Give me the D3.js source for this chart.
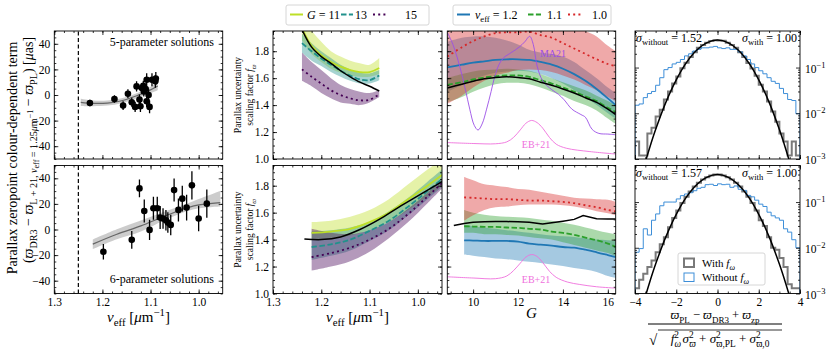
<!DOCTYPE html>
<html>
<head>
<meta charset="utf-8">
<script src="https://cdn.jsdelivr.net/npm/d3@7"></script>
<style>
    body { margin: 0; background: #fff; }
    text { font-family: "Liberation Serif", "DejaVu Serif", serif; }
</style>
</head>
<body>
<div id="chart"></div>
<script>
// ---- colour-dependent zeropoint term ----
const nu5 = [1.226, 1.175, 1.157, 1.147, 1.139, 1.132, 1.129, 1.123, 1.121, 1.118, 1.115, 1.114, 1.110, 1.108, 1.108, 1.104, 1.102, 1.097, 1.090, 1.089];
const zp5 = [-6.2, -3.1, -8.3, 1.0, -5.7, -9.3, 6.7, -3.6, -8.8, 5.4, 7.2, 2.8, 4.6, 11.9, -4.9, 0.0, -9.3, 11.9, 10.7, 12.9];
const zp5Err = [2.5, 3, 3.5, 3.5, 3.5, 4, 4, 4, 4.5, 4, 4, 4, 4, 5, 4.5, 4.5, 5, 5, 5, 5];
const fitNu5 = [1.245, 1.22, 1.19, 1.16, 1.13, 1.10, 1.085];
const fit5 = [-5.7, -6.5, -6.3, -4.5, -0.8, 4.0, 7.0];
const fit5Lo = [-8.5, -8.7, -8.3, -6.5, -2.8, 1.5, 3.8];
const fit5Hi = [-2.9, -4.3, -4.3, -2.5, 1.2, 6.5, 10.2];

const nu6 = [1.198, 1.139, 1.123, 1.113, 1.102, 1.094, 1.086, 1.080, 1.074, 1.068, 1.064, 1.058, 1.051, 1.042, 1.034, 1.025, 1.014, 1.000, 0.983];
const zp6 = [-17.4, -8.1, 32.1, 14.5, -0.3, 16.6, 16.6, 9.3, 8.6, 7.2, 5.4, 3.6, 30.8, 15.3, 24.1, 17.1, 34.5, 8.6, 20.2];
const zp6Err = [6, 7, 7, 9, 8, 9, 9, 9, 8, 8, 8, 8, 9, 9, 10, 10, 11, 10, 11];
const fitNu6 = [1.22, 1.17, 1.12, 1.07, 1.01, 0.955];
const fit6 = [-11.4, -3.7, 2.8, 10.5, 18.4, 21.0];
const fit6Lo = [-15.3, -7.6, -1.5, 7.5, 15.8, 18.0];
const fit6Hi = [-7.8, 0.2, 7.0, 14.0, 22.3, 30.0];

// ---- scaling factor vs nu_eff ----
const gLevels = ["11", "13", "15"];
const nuFTop = [1.24, 1.22, 1.20, 1.18, 1.16, 1.14, 1.12, 1.10, 1.08];
const fAllTop = [1.96, 1.83, 1.76, 1.71, 1.655, 1.61, 1.57, 1.54, 1.505];
const fG11Top = [1.97, 1.84, 1.77, 1.72, 1.685, 1.66, 1.645, 1.645, 1.675];
const fG11TopLo = [1.88, 1.78, 1.72, 1.67, 1.64, 1.62, 1.61, 1.61, 1.63];
const fG11TopHi = [2.05, 1.95, 1.87, 1.80, 1.76, 1.73, 1.71, 1.70, 1.75];
const fG13Top = [1.86, 1.80, 1.745, 1.70, 1.655, 1.62, 1.59, 1.585, 1.62];
const fG13TopLo = [1.79, 1.73, 1.69, 1.645, 1.61, 1.58, 1.56, 1.56, 1.585];
const fG13TopHi = [1.93, 1.86, 1.80, 1.75, 1.70, 1.665, 1.64, 1.635, 1.66];
const fG15Top = [1.665, 1.61, 1.56, 1.51, 1.475, 1.45, 1.435, 1.44, 1.48];
const fG15TopLo = [1.58, 1.54, 1.49, 1.45, 1.42, 1.41, 1.40, 1.42, 1.46];
const fG15TopHi = [1.79, 1.72, 1.66, 1.60, 1.55, 1.52, 1.50, 1.49, 1.51];

const nuFBot = [1.22, 1.18, 1.14, 1.10, 1.06, 1.02, 0.98, 0.95];
const nuAllBot = [1.235, 1.20, 1.16, 1.12, 1.08, 1.04, 1.00, 0.95];
const fAllBot = [1.405, 1.40, 1.42, 1.475, 1.55, 1.64, 1.725, 1.83];
const fG11Bot = [1.45, 1.46, 1.48, 1.53, 1.60, 1.70, 1.80, 1.88];
const fG11BotLo = [1.40, 1.41, 1.43, 1.47, 1.53, 1.62, 1.72, 1.80];
const fG11BotHi = [1.53, 1.54, 1.57, 1.62, 1.70, 1.81, 1.92, 2.00];
const fG13Bot = [1.345, 1.365, 1.40, 1.465, 1.54, 1.645, 1.76, 1.85];
const fG13BotLo = [1.25, 1.28, 1.32, 1.39, 1.47, 1.58, 1.70, 1.79];
const fG13BotHi = [1.46, 1.47, 1.49, 1.53, 1.61, 1.71, 1.83, 1.92];
const fG15Bot = [1.27, 1.30, 1.34, 1.40, 1.48, 1.59, 1.72, 1.82];
const fG15BotLo = [1.17, 1.20, 1.24, 1.31, 1.41, 1.53, 1.67, 1.78];
const fG15BotHi = [1.48, 1.45, 1.44, 1.47, 1.53, 1.63, 1.75, 1.85];

// ---- scaling factor vs G ----
const nuLevels = ["1.2", "1.1", "1.0"];
const gTop = [8.85, 9.5, 10, 10.5, 11, 11.5, 12, 12.5, 13, 13.5, 14, 14.5, 15, 15.5, 16, 16.35];
const fAllG = [1.527, 1.555, 1.577, 1.595, 1.605, 1.61, 1.605, 1.595, 1.57, 1.547, 1.52, 1.49, 1.455, 1.42, 1.37, 1.33];
const fN12Top = [1.68, 1.70, 1.715, 1.725, 1.735, 1.74, 1.74, 1.735, 1.72, 1.70, 1.67, 1.63, 1.58, 1.52, 1.45, 1.40];
const fN12TopLo = [1.50, 1.55, 1.59, 1.62, 1.64, 1.65, 1.655, 1.65, 1.63, 1.60, 1.56, 1.51, 1.46, 1.40, 1.34, 1.30];
const fN12TopHi = [1.87, 1.90, 1.91, 1.91, 1.90, 1.88, 1.85, 1.81, 1.79, 1.78, 1.76, 1.72, 1.66, 1.60, 1.53, 1.49];
const fN11Top = [1.55, 1.57, 1.59, 1.605, 1.615, 1.62, 1.62, 1.61, 1.585, 1.56, 1.53, 1.50, 1.465, 1.43, 1.38, 1.35];
const fN11TopLo = [1.42, 1.46, 1.50, 1.53, 1.555, 1.565, 1.565, 1.555, 1.53, 1.50, 1.47, 1.43, 1.40, 1.36, 1.30, 1.26];
const fN11TopHi = [1.60, 1.63, 1.65, 1.66, 1.665, 1.67, 1.665, 1.655, 1.63, 1.60, 1.57, 1.54, 1.51, 1.47, 1.43, 1.40];
const fN10Top = [1.76, 1.83, 1.875, 1.91, 1.935, 1.94, 1.94, 1.945, 1.92, 1.90, 1.86, 1.82, 1.78, 1.74, 1.705, 1.69];
const fN10TopLo = [1.41, 1.47, 1.53, 1.58, 1.62, 1.64, 1.66, 1.665, 1.66, 1.645, 1.62, 1.59, 1.55, 1.51, 1.46, 1.43];
const fN10TopHi = [2.10, 2.15, 2.20, 2.20, 2.20, 2.20, 2.20, 2.20, 2.15, 2.10, 2.05, 2.00, 1.95, 1.91, 1.84, 1.80];
const maG = [8.85, 9.1, 9.4, 9.65, 9.85, 10.05, 10.22, 10.4, 10.6, 10.8, 10.96, 11.15, 11.35, 11.7, 12.05, 12.3, 12.52, 12.68, 12.85, 13.1, 13.5, 13.8, 14.05, 14.4, 14.8, 15.0, 15.3, 15.6, 16.0, 16.35];
const maF = [1.94, 1.85, 1.69, 1.52, 1.37, 1.25, 1.215, 1.26, 1.37, 1.50, 1.61, 1.70, 1.75, 1.79, 1.83, 1.87, 1.91, 1.85, 1.69, 1.58, 1.515, 1.48, 1.44, 1.37, 1.33, 1.31, 1.22, 1.19, 1.185, 1.18];
const ebGTop = [8.85, 10, 11, 11.5, 11.8, 12.1, 12.35, 12.6, 12.85, 13.1, 13.4, 13.7, 14.15, 15.2, 16.35];
const ebFTop = [1.122, 1.115, 1.113, 1.127, 1.16, 1.216, 1.265, 1.286, 1.27, 1.229, 1.16, 1.11, 1.08, 1.055, 1.037];

const gBot = [9.6, 10, 10.5, 11, 11.5, 12, 12.5, 13, 13.5, 14, 14.5, 15, 15.5, 16, 16.35];
const gAllBot = [9.14, 9.6, 10, 10.5, 11, 11.5, 12, 12.5, 13, 13.1, 13.5, 14, 14.5, 14.9, 15.5, 16, 16.35];
const fAllGBot = [1.504, 1.52, 1.528, 1.533, 1.535, 1.534, 1.532, 1.528, 1.518, 1.516, 1.525, 1.537, 1.55, 1.578, 1.555, 1.553, 1.553];
const fN12Bot = [1.395, 1.393, 1.39, 1.39, 1.39, 1.385, 1.37, 1.363, 1.355, 1.345, 1.34, 1.325, 1.306, 1.285, 1.27];
const fN12BotLo = [1.289, 1.28, 1.27, 1.26, 1.255, 1.245, 1.235, 1.227, 1.215, 1.205, 1.19, 1.178, 1.16, 1.13, 1.116];
const fN12BotHi = [1.51, 1.50, 1.49, 1.48, 1.47, 1.46, 1.45, 1.44, 1.43, 1.425, 1.42, 1.41, 1.40, 1.395, 1.39];
const fN11Bot = [1.499, 1.497, 1.495, 1.494, 1.49, 1.487, 1.48, 1.475, 1.46, 1.45, 1.435, 1.415, 1.395, 1.37, 1.346];
const fN11BotLo = [1.45, 1.45, 1.44, 1.44, 1.435, 1.43, 1.42, 1.41, 1.40, 1.38, 1.36, 1.34, 1.32, 1.30, 1.276];
const fN11BotHi = [1.62, 1.60, 1.585, 1.575, 1.57, 1.565, 1.56, 1.55, 1.54, 1.525, 1.51, 1.49, 1.47, 1.45, 1.437];
const fN10Bot = [1.713, 1.71, 1.705, 1.70, 1.70, 1.695, 1.69, 1.69, 1.685, 1.68, 1.67, 1.655, 1.64, 1.62, 1.61];
const fN10BotLo = [1.54, 1.58, 1.62, 1.64, 1.645, 1.655, 1.66, 1.66, 1.66, 1.655, 1.645, 1.63, 1.61, 1.595, 1.58];
const fN10BotHi = [1.864, 1.84, 1.81, 1.80, 1.79, 1.775, 1.77, 1.755, 1.74, 1.725, 1.71, 1.705, 1.70, 1.695, 1.68];
const ebGBot = [8.85, 10, 11, 11.5, 11.8, 12.1, 12.35, 12.6, 12.85, 13.1, 13.4, 13.7, 14.2, 14.75, 15.5, 16.35];
const ebFBot = [1.124, 1.115, 1.11, 1.13, 1.17, 1.225, 1.27, 1.289, 1.275, 1.23, 1.165, 1.12, 1.085, 1.067, 1.05, 1.04];

// ---- normalised residual histograms (bins of 0.2 from -4 to 4) ----
const histLo = -4, histWidth = 0.2;
const histWithTop = [0.0024, 0.0012, 0.0012, 0.0036, 0.0048, 0.0085, 0.012, 0.02, 0.03, 0.045, 0.064, 0.096, 0.128, 0.17, 0.215, 0.27, 0.31, 0.35, 0.38, 0.395,
                     0.39, 0.385, 0.35, 0.31, 0.27, 0.215, 0.17, 0.125, 0.095, 0.066, 0.042, 0.03, 0.018, 0.011, 0.0065, 0.0036, 0.0024, 0.0012, 0.0024, 0.0012];
const histWithoutTop = [0.015, 0.016, 0.022, 0.027, 0.03, 0.041, 0.06, 0.09, 0.1, 0.12, 0.13, 0.15, 0.18, 0.2, 0.23, 0.25, 0.27, 0.27, 0.28, 0.29,
                        0.27, 0.26, 0.27, 0.25, 0.25, 0.22, 0.18, 0.15, 0.12, 0.1, 0.085, 0.073, 0.06, 0.05, 0.045, 0.035, 0.027, 0.02, 0.019, 0.0098];
const histWithBot = [0.0013, 0.002, 0.0027, 0.0038, 0.0053, 0.008, 0.012, 0.017, 0.028, 0.045, 0.065, 0.095, 0.13, 0.17, 0.22, 0.265, 0.31, 0.35, 0.38, 0.40,
                     0.40, 0.38, 0.35, 0.31, 0.265, 0.22, 0.17, 0.13, 0.095, 0.065, 0.04, 0.03, 0.017, 0.01, 0.009, 0.006, 0.0038, 0.0016, 0.0013, 0.0013];
const histWithoutBot = [0.008, 0.0096, 0.026, 0.019, 0.04, 0.055, 0.083, 0.1, 0.1, 0.1, 0.117, 0.138, 0.15, 0.16, 0.177, 0.2, 0.21, 0.24, 0.245, 0.23,
                        0.25, 0.24, 0.245, 0.21, 0.225, 0.19, 0.18, 0.14, 0.13, 0.11, 0.09, 0.08, 0.06, 0.05, 0.045, 0.04, 0.026, 0.022, 0.015, 0.01];
const gaussX = [-3.6, -3.3, -3, -2.5, -2, -1.5, -1, -0.5, 0, 0.5, 1, 1.5, 2, 2.5, 3, 3.3, 3.6];
const gaussY = [0.0006, 0.0017, 0.0044, 0.0175, 0.054, 0.13, 0.242, 0.352, 0.399, 0.352, 0.242, 0.13, 0.054, 0.0175, 0.0044, 0.0017, 0.0006];
const sigmaWithout = ["1.52", "1.57"];
const sigmaWith = ["1.00", "1.00"];

// ---- layout ----
const W = 830, H = 356;
const row = [{ top: 31, bot: 159 }, { top: 165.5, bot: 293.5 }];
const colA = [54.3, 222.7], colB = [273, 442], colC = [447.3, 615.7], colD = [635, 800];

const cG = { "11": "#bddf26", "13": "#21918c", "15": "#440154" };
const cNu = { "1.2": "#1f77b4", "1.1": "#2ca02c", "1.0": "#d62728" };
const cMA = "#9b4fe6", cEB = "#ef6fdd", cWithout = "#3d8ed8";

const svg = d3.select("#chart").append("svg")
    .attr("width", W)
    .attr("height", H);

// text with sub/superscripts: parts = [text, flags, dx]
// flags: i italic, _ sub, ^ sup, s sub of sub, u sup of sub
const shifts = { "_": [0.28, 0.72], "^": [-0.42, 0.72], "s": [0.42, 0.58], "u": [0.0, 0.58] };
function rich(t, parts, size) {
    let cur = 0;
    parts.forEach(p => {
        const [s, f, dx] = Array.isArray(p) ? p : [p, ""];
        const key = Object.keys(shifts).find(k => f.includes(k));
        const sh = key ? shifts[key][0] * size : 0;
        const ts = t.append("tspan").attr("dy", (sh - cur).toFixed(2)).text(s);
        cur = sh;
        if (key) ts.attr("font-size", (shifts[key][1] * size).toFixed(1));
        if (f.includes("i")) ts.attr("font-style", "italic");
        if (dx) ts.attr("dx", dx);
    });
    return t;
}

function label(x, y, parts, o = {}) {
    const size = o.size || 12;
    const t = svg.append("text")
        .attr("x", x).attr("y", y)
        .attr("font-size", size)
        .attr("fill", o.color || "#000")
        .attr("text-anchor", o.anchor || "start");
    if (o.rotate) t.attr("transform", `rotate(-90,${x},${y})`);
    return rich(t, parts, size);
}

let clipCount = 0;
function plotArea(x, y) {
    const id = "clip" + (clipCount++);
    svg.append("clipPath").attr("id", id).append("rect")
        .attr("x", x.range()[0]).attr("y", y.range()[1])
        .attr("width", x.range()[1] - x.range()[0])
        .attr("height", y.range()[0] - y.range()[1]);
    return svg.append("g").attr("clip-path", `url(#${id})`);
}

function addAxes(x, y, o) {
    const [x0, x1] = x.range(), [y0, y1] = y.range();
    const g = svg.append("g");
    const inX = v => v >= Math.min(...x.domain()) - 1e-9 && v <= Math.max(...x.domain()) + 1e-9;
    const inY = v => v >= Math.min(...y.domain()) - 1e-9 && v <= Math.max(...y.domain()) + 1e-9;
    const put = (axis, tx, ty) => g.append("g")
        .attr("transform", `translate(${tx},${ty})`)
        .call(axis)
        .call(s => s.select(".domain").remove());

    put(d3.axisBottom(x).tickValues(o.xMajor).tickSize(-4).tickPadding(4.5).tickFormat(o.xFmt || ""), 0, y0);
    put(d3.axisBottom(x).tickValues(o.xMinor.filter(inX)).tickSize(-2).tickFormat(""), 0, y0);
    put(d3.axisTop(x).tickValues(o.xMajor).tickSize(-4).tickFormat(""), 0, y1);
    put(d3.axisTop(x).tickValues(o.xMinor.filter(inX)).tickSize(-2).tickFormat(""), 0, y1);
    put(d3.axisLeft(y).tickValues(o.yMajor).tickSize(-4).tickPadding(4).tickFormat(o.yLeftFmt || ""), x0, 0);
    put(d3.axisLeft(y).tickValues(o.yMinor.filter(inY)).tickSize(-2).tickFormat(""), x0, 0);
    const r = put(d3.axisRight(y).tickValues(o.yMajor).tickSize(-4).tickPadding(5).tickFormat(o.yRightFmt ? () => "" : ""), x1, 0);
    put(d3.axisRight(y).tickValues(o.yMinor.filter(inY)).tickSize(-2).tickFormat(""), x1, 0);

    if (o.yRightFmt) {
        r.selectAll(".tick text").each(function (d) {
            const t = d3.select(this).attr("dy", "0.4em");
            t.append("tspan").text("10");
            t.append("tspan").attr("dy", -5).attr("font-size", 8.5).text("−" + Math.round(-Math.log10(d)));
        });
    }

    g.selectAll(".tick line").attr("stroke", "#000").attr("stroke-width", 0.8);
    g.selectAll("g").attr("font-family", null).attr("font-size", 11.5);
    g.selectAll(".tick text").attr("fill", "#000");

    g.append("rect")
        .attr("x", x0).attr("y", y1)
        .attr("width", x1 - x0).attr("height", y0 - y1)
        .attr("fill", "none")
        .attr("stroke", "#000")
        .attr("stroke-width", 0.9);
}

function band(g, x, y, xs, lo, hi, color, opacity) {
    g.append("path")
        .datum(d3.range(xs.length))
        .attr("d", d3.area()
            .x(i => x(xs[i]))
            .y0(i => y(lo[i]))
            .y1(i => y(hi[i]))
            .curve(d3.curveCatmullRom))
        .attr("fill", color)
        .attr("fill-opacity", opacity);
}

function curve(g, x, y, xs, vs, color, width, dash, smooth = true) {
    g.append("path")
        .datum(d3.range(xs.length))
        .attr("d", d3.line()
            .x(i => x(xs[i]))
            .y(i => y(vs[i]))
            .curve(smooth ? d3.curveCatmullRom : d3.curveLinear))
        .attr("fill", "none")
        .attr("stroke", color)
        .attr("stroke-width", width)
        .attr("stroke-dasharray", dash || null);
}

const fmt1 = d3.format(".1f");
const nuMajor = [1.3, 1.2, 1.1, 1.0];
const nuMinor = d3.range(0.94, 1.301, 0.02).map(v => +v.toFixed(2));
const fMajor = [1.0, 1.2, 1.4, 1.6, 1.8];
const fMinor = d3.range(1.0, 1.951, 0.05).map(v => +v.toFixed(2));

// ================= column A : zeropoint term =================
[
    { nu: nu5, zp: zp5, err: zp5Err, fNu: fitNu5, fit: fit5, lo: fit5Lo, hi: fit5Hi },
    { nu: nu6, zp: zp6, err: zp6Err, fNu: fitNu6, fit: fit6, lo: fit6Lo, hi: fit6Hi }
].forEach((s, r) => {
    const x = d3.scaleLinear().domain([1.3, 0.95]).range(colA);
    const y = d3.scaleLinear().domain([-50, 50]).range([row[r].bot, row[r].top]);
    const g = plotArea(x, y);

    g.append("line")
        .attr("x1", x(1.25)).attr("x2", x(1.25))
        .attr("y1", y(-50)).attr("y2", y(50))
        .attr("stroke", "#000").attr("stroke-width", 1.2)
        .attr("stroke-dasharray", "4,2.5");

    band(g, x, y, s.fNu, s.lo, s.hi, "#999", 0.5);
    curve(g, x, y, s.fNu, s.fit, "#666", 1.2);

    g.selectAll("line.err")
        .data(s.nu)
        .enter()
        .append("line")
        .attr("class", "err")
        .attr("x1", d => x(d)).attr("x2", d => x(d))
        .attr("y1", (d, i) => y(s.zp[i] - s.err[i]))
        .attr("y2", (d, i) => y(s.zp[i] + s.err[i]))
        .attr("stroke", "#000").attr("stroke-width", 1.3);

    g.selectAll("circle.pt")
        .data(s.nu)
        .enter()
        .append("circle")
        .attr("class", "pt")
        .attr("cx", d => x(d))
        .attr("cy", (d, i) => y(s.zp[i]))
        .attr("r", 3.3)
        .attr("fill", "#000");

    addAxes(x, y, {
        xMajor: nuMajor, xMinor: nuMinor, xFmt: r === 1 ? fmt1 : "",
        yMajor: [-40, -20, 0, 20, 40], yMinor: d3.range(-50, 51, 5), yLeftFmt: d3.format("d")
    });
});

label(214, 46, ["5-parameter solutions"], { anchor: "end", size: 12 });
label(214, 283, ["6-parameter solutions"], { anchor: "end", size: 12 });

// ================= column B : f vs nu_eff =================
[
    {
        nuG: nuFTop, nuAll: nuFTop, all: fAllTop,
        s: { "11": [fG11Top, fG11TopLo, fG11TopHi], "13": [fG13Top, fG13TopLo, fG13TopHi], "15": [fG15Top, fG15TopLo, fG15TopHi] }
    },
    {
        nuG: nuFBot, nuAll: nuAllBot, all: fAllBot,
        s: { "11": [fG11Bot, fG11BotLo, fG11BotHi], "13": [fG13Bot, fG13BotLo, fG13BotHi], "15": [fG15Bot, fG15BotLo, fG15BotHi] }
    }
].forEach((p, r) => {
    const x = d3.scaleLinear().domain([1.3, 0.95]).range(colB);
    const y = d3.scaleLinear().domain([1.0, 1.95]).range([row[r].bot, row[r].top]);
    const g = plotArea(x, y);
    const dash = { "11": null, "13": "5.5,2.4", "15": "2,3.2" };

    gLevels.forEach(k => band(g, x, y, p.nuG, p.s[k][1], p.s[k][2], cG[k], 0.4));
    gLevels.forEach(k => curve(g, x, y, p.nuG, p.s[k][0], cG[k], 1.8, dash[k]));
    curve(g, x, y, p.nuAll, p.all, "#000", 1.5);

    addAxes(x, y, {
        xMajor: nuMajor, xMinor: nuMinor, xFmt: r === 1 ? fmt1 : "",
        yMajor: fMajor, yMinor: fMinor, yLeftFmt: fmt1
    });
    const cy = (row[r].top + row[r].bot) / 2;
    label(241, cy, ["Parallax uncertainty"], { anchor: "middle", size: 9.5, rotate: true });
    label(253, cy, ["scaling factor ", ["f", "i"], ["ϖ", "i_"]], { anchor: "middle", size: 9.5, rotate: true });
});

// ================= column C : f vs G =================
[
    {
        g: gTop, gAll: gTop, all: fAllG, allSmooth: true, eb: [ebGTop, ebFTop],
        s: { "1.2": [fN12Top, fN12TopLo, fN12TopHi], "1.1": [fN11Top, fN11TopLo, fN11TopHi], "1.0": [fN10Top, fN10TopLo, fN10TopHi] }
    },
    {
        g: gBot, gAll: gAllBot, all: fAllGBot, allSmooth: false, eb: [ebGBot, ebFBot],
        s: { "1.2": [fN12Bot, fN12BotLo, fN12BotHi], "1.1": [fN11Bot, fN11BotLo, fN11BotHi], "1.0": [fN10Bot, fN10BotLo, fN10BotHi] }
    }
].forEach((p, r) => {
    const x = d3.scaleLinear().domain([8.85, 16.35]).range(colC);
    const y = d3.scaleLinear().domain([1.0, 1.95]).range([row[r].bot, row[r].top]);
    const g = plotArea(x, y);
    const dash = { "1.2": null, "1.1": "5.5,2.4", "1.0": "2,3.2" };

    nuLevels.forEach(k => band(g, x, y, p.g, p.s[k][1], p.s[k][2], cNu[k], 0.4));
    nuLevels.forEach(k => curve(g, x, y, p.g, p.s[k][0], cNu[k], 1.8, dash[k]));
    if (r === 0) curve(g, x, y, maG, maF, cMA, 0.9);
    curve(g, x, y, p.eb[0], p.eb[1], cEB, 0.9);
    curve(g, x, y, p.gAll, p.all, "#000", 1.5, null, p.allSmooth);

    addAxes(x, y, {
        xMajor: [10, 12, 14, 16], xMinor: d3.range(9, 16.5, 0.5), xFmt: r === 1 ? d3.format("d") : "",
        yMajor: fMajor, yMinor: fMinor
    });
});

label(553, 57, ["MA21"], { anchor: "middle", size: 10, color: cMA });
label(536, 148, ["EB+21"], { anchor: "middle", size: 10, color: cEB });
label(536, 283, ["EB+21"], { anchor: "middle", size: 10, color: cEB });

// ================= column D : histograms =================
function stepPath(x, y, vals) {
    const floor = y.range()[0] + 6;
    const pts = [[x(histLo), floor]];
    vals.forEach((v, i) => {
        const yv = Math.max(y(Math.max(v, 1e-4)), -50);
        pts.push([x(histLo + i * histWidth), yv], [x(histLo + (i + 1) * histWidth), yv]);
    });
    pts.push([x(histLo + vals.length * histWidth), floor]);
    return d3.line()(pts);
}

[
    { with: histWithTop, without: histWithoutTop },
    { with: histWithBot, without: histWithoutBot }
].forEach((p, r) => {
    const x = d3.scaleLinear().domain([-4, 4]).range(colD);
    const y = d3.scaleLog().domain([1e-3, 0.63]).range([row[r].bot, row[r].top]);
    const g = plotArea(x, y);

    g.append("path").attr("d", stepPath(x, y, p.with))
        .attr("fill", "none").attr("stroke", "#7a7a7a").attr("stroke-width", 2);
    g.append("path").attr("d", stepPath(x, y, p.without))
        .attr("fill", "none").attr("stroke", cWithout).attr("stroke-width", 1);
    g.append("path")
        .datum(d3.range(gaussX.length))
        .attr("d", d3.line().x(i => x(gaussX[i])).y(i => y(gaussY[i])).curve(d3.curveCatmullRom))
        .attr("fill", "none").attr("stroke", "#000").attr("stroke-width", 1.5);

    const minor = [];
    [1e-3, 1e-2, 1e-1].forEach(dec => d3.range(2, 10).forEach(k => minor.push(k * dec)));
    addAxes(x, y, {
        xMajor: [-4, -2, 0, 2, 4], xMinor: d3.range(-4, 4.01, 0.5), xFmt: r === 1 ? d3.format("d") : "",
        yMajor: [1e-3, 1e-2, 1e-1], yMinor: minor, yRightFmt: true
    });

    label(636, row[r].top + 11, [["σ", "i"], ["without", "_"], " = " + sigmaWithout[r]], { size: 12 });
    label(797, row[r].top + 11, [["σ", "i"], ["with", "_"], " = " + sigmaWith[r]], { size: 12, anchor: "end" });
});

// legend, histogram panel
svg.append("rect")
    .attr("x", 678).attr("y", 253).attr("width", 87).attr("height", 32).attr("rx", 2)
    .attr("fill", "#fff").attr("fill-opacity", 0.85).attr("stroke", "#ccc").attr("stroke-width", 0.8);
svg.append("rect").attr("x", 684).attr("y", 258.5).attr("width", 10).attr("height", 8.5)
    .attr("fill", "none").attr("stroke", "#7a7a7a").attr("stroke-width", 2);
svg.append("rect").attr("x", 684).attr("y", 273).attr("width", 10).attr("height", 8.5)
    .attr("fill", "none").attr("stroke", cWithout).attr("stroke-width", 1);
label(702, 267, ["With ", ["f", "i"], ["ω", "i_"]], { size: 11 });
label(702, 281, ["Without ", ["f", "i"], ["ω", "i_"]], { size: 11 });

// legends, top
svg.append("rect").attr("x", 286).attr("y", 5).attr("width", 143).attr("height", 20).attr("rx", 2)
    .attr("fill", "#fff").attr("stroke", "#ccc").attr("stroke-width", 0.8);
[
    { k: "11", x0: 290, x1: 303, tx: 307, dash: null },
    { k: "13", x0: 341, x1: 353, tx: 355, dash: "5.5,2.4" },
    { k: "15", x0: 373, x1: 388, tx: 405, dash: "2,3.2" }
].forEach(e => {
    svg.append("line").attr("x1", e.x0).attr("x2", e.x1).attr("y1", 14.5).attr("y2", 14.5)
        .attr("stroke", cG[e.k]).attr("stroke-width", 2).attr("stroke-dasharray", e.dash);
    label(e.tx, 19, e.k === "11" ? [["G", "i"], " = " + e.k] : [e.k], { size: 12 });
});

svg.append("rect").attr("x", 453).attr("y", 5).attr("width", 158).attr("height", 20).attr("rx", 2)
    .attr("fill", "#fff").attr("stroke", "#ccc").attr("stroke-width", 0.8);
[
    { k: "1.2", x0: 457, x1: 470, tx: 475, dash: null },
    { k: "1.1", x0: 528, x1: 541, tx: 547, dash: "5.5,2.4" },
    { k: "1.0", x0: 568, x1: 582, tx: 592, dash: "2,3.2" }
].forEach(e => {
    svg.append("line").attr("x1", e.x0).attr("x2", e.x1).attr("y1", 14.5).attr("y2", 14.5)
        .attr("stroke", cNu[e.k]).attr("stroke-width", 2).attr("stroke-dasharray", e.dash);
    label(e.tx, 19, e.k === "1.2" ? [["ν", "i"], ["eff", "_"], " = " + e.k] : [e.k], { size: 12 });
});

// axis titles
const nuTitle = [["ν", "i"], ["eff", "_"], " [", ["μ", "i"], "m", ["−1", "^"], "]"];
label((colA[0] + colA[1]) / 2, 322, nuTitle, { anchor: "middle", size: 15 });
label((colB[0] + colB[1]) / 2, 322, nuTitle, { anchor: "middle", size: 15 });
label((colC[0] + colC[1]) / 2, 318, [["G", "i"]], { anchor: "middle", size: 15 });

label(17, 158, ["Parallax zeropoint colour-dependent term"], { anchor: "middle", size: 14, rotate: true });
label(33, 150, ["(", ["ϖ", "i"], ["DR3", "_"], " − ", ["ϖ", "i"], ["L + 21, ", "_"], ["ν", "i_"], ["eff", "s"], [" = 1.25", "_"], ["μ", "i_"], ["m", "_"], ["−1", "u"],
    " − ", ["ϖ", "i"], ["PL", "_"], ") [", ["μ", "i"], "as]"],
    { anchor: "middle", size: 14, rotate: true });

label(715, 319, [["ϖ", "i"], ["PL", "_"], " − ", ["ϖ", "i"], ["DR3", "_"], " + ", ["ϖ", "i"], ["zp", "_"]], { anchor: "middle", size: 12.5 });
svg.append("line").attr("x1", 648).attr("x2", 782).attr("y1", 324).attr("y2", 324).attr("stroke", "#000").attr("stroke-width", 1);
label(649, 345, ["√"], { size: 15 });
svg.append("line").attr("x1", 658).attr("x2", 782).attr("y1", 330).attr("y2", 330).attr("stroke", "#000").attr("stroke-width", 0.8);
label(720, 343, [["f", "i"], ["2", "^"], ["ω", "i_", -4.5], ["σ", "i", 1.5], ["2", "^"], ["ϖ", "i_", -4.5], " + ",
    ["σ", "i"], ["2", "^"], ["ϖ,PL", "_", -4.5], " + ", ["σ", "i"], ["2", "^"], ["ϖ,0", "_", -4.5]], { anchor: "middle", size: 13 });
</script>
</body>
</html>
